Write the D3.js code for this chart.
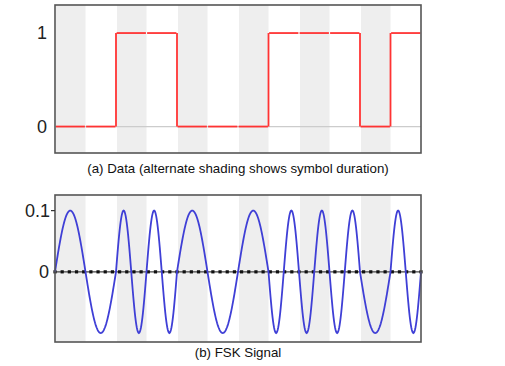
<!DOCTYPE html>
<html><head><meta charset="utf-8">
<script src="https://cdn.jsdelivr.net/npm/d3@7"></script>
<style>body{margin:0;background:#fff}svg{display:block}</style>
</head><body>
<script>
// Data
const bits = [0,0,1,1,0,0,0,1,1,1,0,1];
const cyclesPerSymbol = [0.5, 1];   // FSK frequency for bit 0 / bit 1
const amplitude = 0.1;
const topTicks = [0, 1];
const bottomTicks = [0, 0.1];
const zeroDotCount = 52;
const captionA = "(a) Data (alternate shading shows symbol duration)";
const captionB = "(b) FSK Signal";

const W = 505, H = 366;
const svg = d3.select("body").append("svg").attr("width", W).attr("height", H);
const font = "'Liberation Sans', Arial, sans-serif";

const L = 55, R = 421;
const x = d3.scaleLinear().domain([0, bits.length]).range([L, R]);
const yA = d3.scaleLinear().domain([-0.283, 1.3]).range([153, 5]);
const yB = d3.scaleLinear().domain([-0.1146, 0.1255]).range([342, 195]);

function shading(g, y) {
  const [y0, y1] = y.range();
  g.selectAll("rect.band").data(bits.map((b,i)=>i).filter(i=>i%2===0)).enter()
    .append("rect").attr("class","band")
    .attr("x", i=>x(i)+1).attr("width", i=>x(i+1)-x(i)-1)
    .attr("y", y1).attr("height", y0-y1).attr("fill", "#eeeeee");
}
function frame(g, y) {
  const [y0, y1] = y.range();
  g.append("rect").attr("x", L).attr("y", y1).attr("width", R-L).attr("height", y0-y1)
    .attr("fill","none").attr("stroke","#555").attr("stroke-width",1.6);
}

// Panel A
const gA = svg.append("g");
shading(gA, yA);
gA.append("line").attr("x1", L).attr("x2", R).attr("y1", yA(0)).attr("y2", yA(0))
  .attr("stroke","#cccccc").attr("stroke-width",1.2);
gA.selectAll("line.seg").data(bits).enter().append("line").attr("class","seg")
  .attr("x1",(d,i)=>x(i)+(i===0?1:0.6)).attr("x2",(d,i)=>x(i+1)-0.6)
  .attr("y1",d=>yA(d)).attr("y2",d=>yA(d))
  .attr("stroke","#ff3333").attr("stroke-width",1.8);
const trans = bits.map((b,i)=>i).filter(i=>i>0 && bits[i]!==bits[i-1]);
gA.selectAll("line.tr").data(trans).enter().append("line").attr("class","tr")
  .attr("x1",i=>x(i)).attr("x2",i=>x(i))
  .attr("y1",i=>yA(bits[i-1])).attr("y2",i=>yA(bits[i]))
  .attr("stroke","#ff3333").attr("stroke-width",1.8);
frame(gA, yA);
gA.selectAll("text.tk").data(topTicks).enter().append("text").attr("class","tk")
  .attr("x", 47).attr("y", d=>yA(d)).attr("dy","0.35em").attr("text-anchor","end")
  .attr("font-family", font).attr("font-size", 18).attr("fill","#222").text(d=>d);
svg.append("text").attr("x", (L+R)/2).attr("y", 172.5).attr("text-anchor","middle")
  .attr("font-family", font).attr("font-size", 13.3).attr("fill","#111").text(captionA);

// Panel B
const gB = svg.append("g");
shading(gB, yB);
// continuous-phase FSK signal built from bits
const samples = [];
let phase = 0;
const perSym = 60;
bits.forEach((b,i)=>{
  const f = cyclesPerSymbol[b];
  for (let k=0;k<perSym;k++){
    const t = k/perSym;
    samples.push([i+t, amplitude*Math.sin(phase + 2*Math.PI*f*t)]);
  }
  phase += 2*Math.PI*f;
});
samples.push([bits.length, amplitude*Math.sin(phase)]);
// zero line with dots
const zeroPts = d3.range(zeroDotCount).map(k => k*bits.length/(zeroDotCount-1));
gB.append("line").attr("x1", L).attr("x2", R).attr("y1", yB(0)).attr("y2", yB(0))
  .attr("stroke","#444").attr("stroke-width",1.2);
gB.selectAll("rect.dot").data(zeroPts).enter().append("rect").attr("class","dot")
  .attr("x", d=>x(d)-1.6).attr("y", yB(0)-1.6).attr("width",3.2).attr("height",3.2)
  .attr("fill","#111");
gB.append("path").datum(samples)
  .attr("d", d3.line().x(d=>x(d[0])).y(d=>yB(d[1])))
  .attr("fill","none").attr("stroke","#3f3fd6").attr("stroke-width",1.8);
frame(gB, yB);
gB.selectAll("line.tick").data(bottomTicks.filter(d=>d!==0)).enter().append("line").attr("class","tick")
  .attr("x1", 51).attr("x2", L).attr("y1", d=>yB(d)).attr("y2", d=>yB(d))
  .attr("stroke","#333").attr("stroke-width",1.2);
gB.selectAll("text.tk").data(bottomTicks).enter().append("text").attr("class","tk")
  .attr("x", d=> d===0 ? 49 : 50).attr("y", d=>yB(d)).attr("dy","0.35em").attr("text-anchor","end")
  .attr("font-family", font).attr("font-size", 18).attr("fill","#222").text(d=>d);
svg.append("text").attr("x", (L+R)/2).attr("y", 356.5).attr("text-anchor","middle")
  .attr("font-family", font).attr("font-size", 13.3).attr("fill","#111").text(captionB);
</script>
</body></html>
